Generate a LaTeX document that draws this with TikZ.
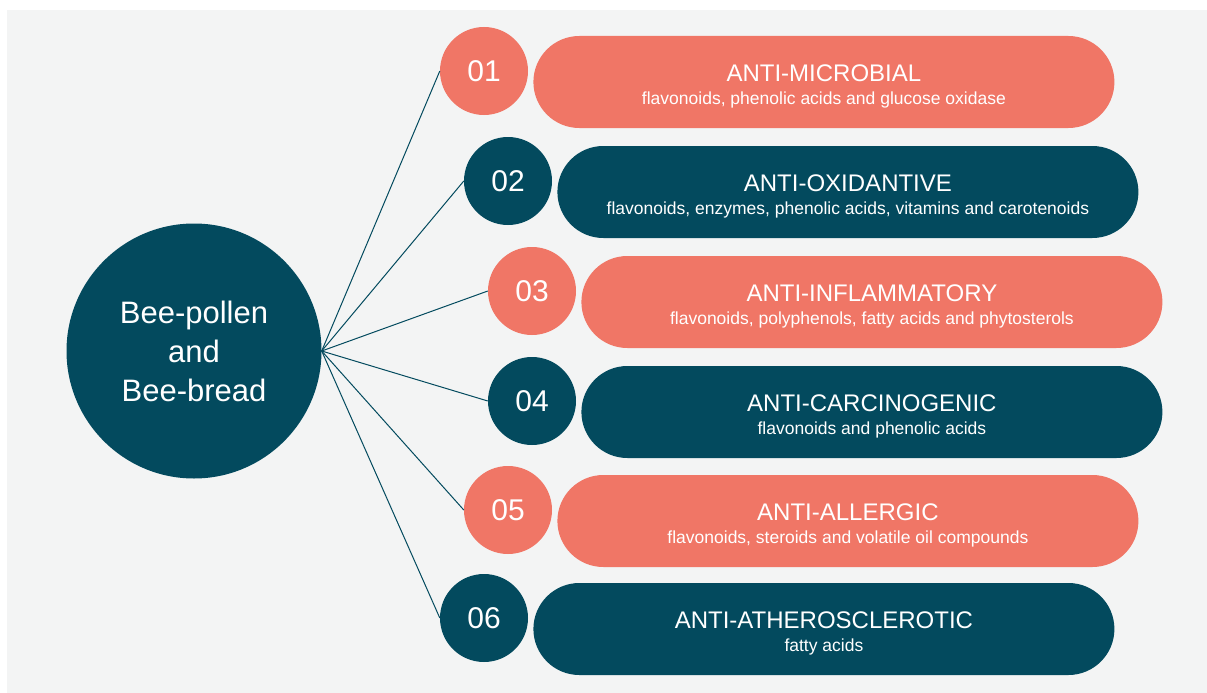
\documentclass[tikz,border=0pt]{standalone}
\usepackage{fontspec}
\setmainfont{Liberation Sans}
\usepackage{tikz}
\usetikzlibrary{positioning}

\definecolor{coral}{HTML}{F07666}
\definecolor{petrol}{HTML}{034A5E}
\definecolor{paper}{HTML}{F3F4F4}
\newcommand{\pilltitle}[1]{\rule{0pt}{25pt}{\fontsize{24}{24}\selectfont #1}}

\begin{document}
\begin{tikzpicture}[x=1pt,y=-1pt,
                    hub node/.style={circle,fill=petrol,text=white,minimum size=255pt,inner sep=0pt,
                                     align=center,font=\fontsize{31}{39}\selectfont},
                    num node/.style={circle,minimum size=88pt,inner sep=0pt,text=white,
                                     font=\fontsize{30}{36}\selectfont},
                    pill node/.style={rectangle,rounded corners=46pt,minimum width=581pt,minimum height=92pt,
                                      inner sep=0pt,text=white,align=center,font=\fontsize{17.5}{23}\selectfont,
                                      right=5pt of #1.east,yshift=-11pt}]

  \useasboundingbox (0,0) rectangle (1207,693);
  \fill[paper] (7,10) rectangle (1207,693);

  \node[hub node] (hub) at (194,351) {Bee-pollen\\and\\Bee-bread};

  \node[num node,fill=coral]  (n1) at (484,71)  {01};
  \node[num node,fill=petrol] (n2) at (508,181) {02};
  \node[num node,fill=coral]  (n3) at (532,291) {03};
  \node[num node,fill=petrol] (n4) at (532,401) {04};
  \node[num node,fill=coral]  (n5) at (508,510) {05};
  \node[num node,fill=petrol] (n6) at (484,618) {06};

  \node[pill node=n1,fill=coral]  (p1) {\pilltitle{ANTI-MICROBIAL}\\flavonoids, phenolic acids and glucose oxidase};
  \node[pill node=n2,fill=petrol] (p2) {\pilltitle{ANTI-OXIDANTIVE}\\flavonoids, enzymes, phenolic acids, vitamins and carotenoids};
  \node[pill node=n3,fill=coral]  (p3) {\pilltitle{ANTI-INFLAMMATORY}\\flavonoids, polyphenols, fatty acids and phytosterols};
  \node[pill node=n4,fill=petrol] (p4) {\pilltitle{ANTI-CARCINOGENIC}\\flavonoids and phenolic acids};
  \node[pill node=n5,fill=coral]  (p5) {\pilltitle{ANTI-ALLERGIC}\\flavonoids, steroids and volatile oil compounds};
  \node[pill node=n6,fill=petrol] (p6) {\pilltitle{ANTI-ATHEROSCLEROTIC}\\fatty acids};

  \path[draw=petrol,line width=1pt]
    (hub.east) edge (n1.west)
               edge (n2.west)
               edge (n3.west)
               edge (n4.west)
               edge (n5.west)
               edge (n6.west);
\end{tikzpicture}
\end{document}
